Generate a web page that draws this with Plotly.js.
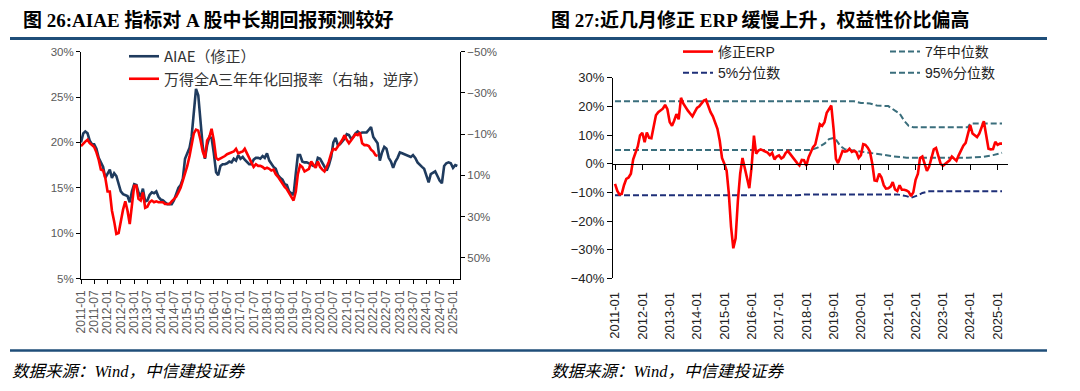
<!DOCTYPE html>
<html><head><meta charset="utf-8">
<script src="https://cdn.plot.ly/plotly-3.0.1.min.js"></script>
<style>html,body{margin:0;padding:0;background:#fff;}#chart{width:1080px;height:391px;}</style>
</head><body><div id="chart"></div>
<script>
// ---------- Data (monthly, starting 2011-01) ----------
// Fig 26: AIAE (修正), %
const aiae = [
 20.0,21.0,21.2,21.0,20.2,19.8,19.8,19.3,18.3,17.8,
 17.3,16.1,16.5,17.0,16.1,16.6,16.3,15.4,14.6,14.3,
 14.2,14.1,13.4,14.6,15.4,15.3,14.5,14.0,14.9,13.5,
 13.6,14.2,14.5,14.4,14.6,14.0,13.7,13.6,13.4,13.2,
 13.2,13.2,13.6,14.4,15.0,15.3,16.0,18.2,18.8,19.4,
 20.6,23.2,25.9,25.2,22.5,19.6,18.2,19.7,20.6,20.5,
 18.8,16.7,16.4,17.4,17.6,17.6,17.7,17.9,17.8,18.2,
 18.0,18.6,18.2,18.4,18.1,17.9,17.6,17.6,18.1,18.3,
 18.3,18.2,18.5,18.3,18.8,18.0,17.6,17.3,17.1,16.4,
 16.1,15.9,15.4,15.3,14.6,14.4,14.2,16.6,18.6,18.6,
 17.9,17.8,17.8,17.7,17.5,17.4,17.4,18.3,18.2,17.8,
 17.3,16.9,17.5,18.4,20.0,20.5,19.7,19.8,20.1,20.4,
 20.9,20.8,20.4,20.6,21.0,21.2,21.0,21.1,21.1,21.1,
 21.4,21.7,20.6,20.2,19.9,18.0,18.9,19.5,19.3,18.3,
 17.9,17.2,17.9,18.3,18.9,18.8,18.7,18.6,18.5,18.4,
 18.6,18.3,17.8,17.5,17.3,17.1,16.3,15.6,16.5,16.7,
 16.8,16.3,15.8,15.5,17.4,17.7,17.8,17.7,17.2,17.5,
 17.4
];
// Fig 26: 万得全A三年年化回报率, % (right axis, reversed)
const windReturn3y = [
 -4.2,-5.6,-6.4,-7.3,-5.6,-4.7,-3.8,-1.2,2.4,7.2,
 7.6,11.2,17.8,17.8,27.0,32.3,38.4,38.0,31.4,26.6,
 22.6,27.0,33.6,24.8,15.1,15.1,21.3,22.2,18.2,25.7,
 25.2,23.0,22.2,23.0,22.6,23.0,23.0,23.0,23.9,23.9,
 23.9,22.6,21.7,20.4,18.2,16.0,12.5,9.4,5.4,0.6,
 -4.2,-10.4,-12.2,-11.7,-7.3,-1.6,1.5,-6.9,-8.6,-12.6,
 -6.9,1.5,2.4,1.9,1.5,0.6,-0.3,-0.7,-1.2,-1.6,
 -2.9,-0.7,-1.2,-1.6,-2.9,-0.7,1.5,3.7,5.9,4.6,
 5.4,5.4,5.9,6.8,6.3,6.8,7.6,7.2,9.4,10.7,
 12.5,14.2,15.6,16.7,18.6,20.8,22.2,17.8,9.4,5.0,
 5.9,8.1,7.6,6.8,3.2,4.6,6.3,3.2,5.9,7.2,
 8.1,5.9,3.2,-0.7,-2.9,-2.5,-3.8,-5.6,-7.3,-9.5,
 -7.3,-5.6,-6.9,-8.6,-10.0,-9.5,-10.8,-5.6,-4.7,-4.7,
 -4.2,-2.5,-1.6,0.2,0.6
];
// Fig 27: 修正ERP, %
const erp = [
 -7.0,-9.5,-10.7,-10.5,-7.5,-5.3,-4.8,-3.5,1.5,4.0,
 6.0,9.9,10.8,7.5,10.9,9.0,8.9,13.0,16.9,18.0,
 18.6,19.2,20.5,19.0,14.5,13.2,15.0,17.3,15.5,23.0,
 21.0,19.5,18.5,17.5,16.5,18.0,19.5,20.0,21.0,22.0,
 22.3,20.0,18.0,16.5,14.0,12.2,8.0,2.0,0.0,-2.5,
 -10.0,-22.0,-29.5,-26.0,-13.0,-3.5,2.0,-1.5,-6.0,-8.5,
 -1.0,9.8,3.5,4.6,5.0,4.6,4.5,3.9,3.0,3.8,
 1.5,2.5,2.9,1.8,2.3,3.8,4.4,3.3,2.2,1.2,
 0.2,-0.6,1.3,1.2,-0.7,2.3,4.0,5.8,6.7,10.5,
 13.8,13.2,14.5,17.8,19.0,20.3,12.0,1.7,0.2,2.5,
 4.5,4.2,4.4,5.2,4.1,4.5,4.0,2.0,3.0,6.8,
 6.6,5.6,4.2,0.0,-5.8,-6.0,-3.5,-4.7,-7.5,-8.7,
 -8.6,-8.0,-6.4,-9.0,-9.5,-7.5,-9.1,-9.1,-9.3,-9.8,
 -11.3,-10.0,-5.6,-3.5,2.0,2.5,-0.2,-2.5,-1.0,1.7,
 5.0,5.5,2.3,0.0,-0.7,0.0,0.6,1.2,2.5,1.8,
 1.0,3.0,5.0,6.3,7.3,10.5,13.5,10.5,9.9,9.3,
 10.5,12.8,14.8,10.0,5.2,5.0,5.1,7.6,6.6,7.0,
 7.0
];
// Fig 27 reference lines (vertices)
const medianDates = ['2011-01','2018-03','2018-06','2018-09','2018-11','2019-01','2019-02','2019-04','2019-06','2019-10','2020-04','2020-10','2021-03','2021-09','2023-12','2024-07','2024-11','2025-03'];
const median7y    = [4.8,4.8,5.6,7.0,8.6,9.0,8.4,6.2,5.0,4.6,4.0,3.2,2.6,2.1,2.1,2.4,3.0,3.8];
const p5Dates = ['2011-01','2017-09','2018-01','2021-05','2021-09','2021-11','2022-02','2022-04','2022-07','2025-03'];
const p5      = [-11.0,-11.0,-10.7,-10.7,-11.3,-11.9,-11.0,-10.2,-9.6,-9.6];
const p95Dates = ['2011-01','2019-10','2020-01','2020-05','2020-08','2021-01','2021-04','2021-06','2021-08','2021-10','2021-12','2023-12','2024-01','2025-03'];
const p95      = [21.8,21.8,21.2,21.0,20.3,20.1,18.5,17.5,15.0,13.2,12.7,12.7,14.0,14.0];

// ---------- helpers ----------
function monthDates(n){
  const out=[];
  for(let i=0;i<n;i++){const y=2011+Math.floor(i/12), m=i%12+1; out.push(y+'-'+String(m).padStart(2,'0')+'-01');}
  return out;
}
const pct = a => a.map(v => v/100);
const W=1080,H=391;
const px = x => x/W, py = y => 1-y/H;

const navy='#1F3B5E', red='#FF0000', teal='#3A6E7C', dnavy='#1E2F78';
const sans='"Liberation Sans", Arial, "Noto Sans CJK SC", sans-serif';
const cjk='"Noto Sans CJK SC", "Liberation Sans", sans-serif';
const serifTitle='"Liberation Serif", "Noto Sans CJK SC", serif';

const y3dom=[py(278.4), py(77.7)];
const zeroPos = y3dom[0] + (y3dom[1]-y3dom[0])*(0.4/0.7);
const rRange=['2010-12-05','2025-05-20'];

const traces = [
  {x:monthDates(aiae.length), y:pct(aiae), name:'AIAE（修正）', type:'scatter', mode:'lines',
   line:{color:navy,width:2.6}, xaxis:'x', yaxis:'y', legend:'legend'},
  {x:monthDates(windReturn3y.length), y:pct(windReturn3y), name:'万得全A三年年化回报率（右轴，逆序）', type:'scatter', mode:'lines',
   line:{color:red,width:2.6}, xaxis:'x', yaxis:'y2', legend:'legend'},
  {x:p95Dates, y:pct(p95), name:'95%分位数', type:'scatter', mode:'lines', line:{color:teal,width:2,dash:'6px,3px'},
   xaxis:'x2', yaxis:'y3', legend:'legend3', legendrank:2},
  {x:medianDates, y:pct(median7y), name:'7年中位数', type:'scatter', mode:'lines', line:{color:teal,width:2,dash:'6px,3px'},
   xaxis:'x2', yaxis:'y3', legend:'legend3', legendrank:1},
  {x:p5Dates, y:pct(p5), name:'5%分位数', type:'scatter', mode:'lines', line:{color:dnavy,width:2,dash:'6px,3px'},
   xaxis:'x2', yaxis:'y3', legend:'legend2', legendrank:2},
  {x:monthDates(erp.length), y:pct(erp), name:'修正ERP', type:'scatter', mode:'lines',
   line:{color:red,width:2.6}, xaxis:'x2', yaxis:'y3', legend:'legend2', legendrank:1},
  {x:['2011-01-01'], y:[null], type:'scatter', mode:'lines', xaxis:'x3', yaxis:'y3', showlegend:false, hoverinfo:'skip'}
];

const tickFontL={family:sans,size:11.5,color:'#595959'};
const layout = {
  width:W, height:H, margin:{l:0,r:0,t:0,b:0}, paper_bgcolor:'#fff', plot_bgcolor:'rgba(0,0,0,0)',
  showlegend:true, hovermode:false,
  xaxis:{domain:[px(81),px(460)], anchor:'y', type:'date', range:['2011-01-01','2025-04-07'],
    tick0:'2011-01-01', dtick:'M6', tickformat:'%Y-%m', tickangle:-90, ticks:'outside', ticklen:4, tickcolor:'#000',
    showline:true, linecolor:'#000', linewidth:1, showgrid:false, zeroline:false, ticklabelstandoff:2,
    tickfont:{family:sans,size:12,color:'#595959'}},
  yaxis:{domain:[py(278.5),py(51.7)], anchor:'x', range:[0.05,0.30], tick0:0.05, dtick:0.05, tickformat:'.0%',
    ticks:'outside', ticklen:4, tickcolor:'#000', showline:true, linecolor:'#000', showgrid:false, zeroline:false, tickfont:tickFontL},
  yaxis2:{overlaying:'y', anchor:'x', side:'right', range:[0.6,-0.5], tick0:-0.5, dtick:0.2, tickformat:'.0%',
    ticks:'outside', ticklen:4, tickcolor:'#000', showline:true, linecolor:'#000', showgrid:false, zeroline:false, tickfont:tickFontL},
  xaxis2:{domain:[px(613),px(1008)], anchor:'y3', type:'date', range:rRange, tick0:'2011-01-01', dtick:'M12',
    tickformat:'%Y-%m', tickangle:-90, ticks:'', showline:false, showgrid:false, zeroline:false, ticklabelstandoff:10,
    tickfont:{family:sans,size:13,color:'#222'}},
  xaxis3:{overlaying:'x2', anchor:'free', position:zeroPos, type:'date', range:rRange, tick0:'2011-01-01', dtick:'M12',
    ticks:'outside', ticklen:5, tickcolor:'#000', showline:true, linecolor:'#000', linewidth:1.2,
    showticklabels:false, showgrid:false, zeroline:false},
  yaxis3:{domain:y3dom, anchor:'x2', range:[-0.4,0.3], tick0:0, dtick:0.1, tickformat:'.0%',
    ticks:'outside', ticklen:5, tickcolor:'#000', showline:true, linecolor:'#000', showgrid:false, zeroline:false,
    tickfont:{family:sans,size:13,color:'#222'}},
  legend:{x:px(124), y:py(40), xanchor:'left', yanchor:'top', bgcolor:'rgba(0,0,0,0)', borderwidth:0,
    font:{family:cjk,size:15,color:'#333'}, tracegroupgap:0, traceorder:'normal'},
  legend2:{x:px(678), y:py(36), xanchor:'left', yanchor:'top', bgcolor:'rgba(0,0,0,0)', borderwidth:0,
    font:{family:sans,size:14,color:'#222'}, traceorder:'normal'},
  legend3:{x:px(885), y:py(36), xanchor:'left', yanchor:'top', bgcolor:'rgba(0,0,0,0)', borderwidth:0,
    font:{family:sans,size:14,color:'#222'}, traceorder:'normal'},
  shapes:[
    {type:'line', xref:'paper', yref:'paper', x0:px(10), x1:px(1047), y0:py(38.5), y1:py(38.5), line:{color:'#1F4E79',width:3}},
    {type:'line', xref:'paper', yref:'paper', x0:px(10), x1:px(1047), y0:py(350.5), y1:py(350.5), line:{color:'#1F4E79',width:2.5}}
  ],
  annotations:[
    {xref:'paper',yref:'paper',x:px(21),y:py(19.5),xanchor:'left',yanchor:'middle',showarrow:false,
     text:'图 26:AIAE 指标对 A 股中长期回报预测较好', font:{family:serifTitle,size:19,weight:'bold',color:'#000'}},
    {xref:'paper',yref:'paper',x:px(549),y:py(19.5),xanchor:'left',yanchor:'middle',showarrow:false,
     text:'图 27:近几月修正 ERP 缓慢上升，权益性价比偏高', font:{family:serifTitle,size:19,weight:'bold',color:'#000'}},
    {xref:'paper',yref:'paper',x:px(10),y:py(371),xanchor:'left',yanchor:'middle',showarrow:false,
     text:'数据来源：Wind，中信建投证券', font:{family:serifTitle,size:16.5,style:'italic',color:'#000'}},
    {xref:'paper',yref:'paper',x:px(549),y:py(371),xanchor:'left',yanchor:'middle',showarrow:false,
     text:'数据来源：Wind，中信建投证券', font:{family:serifTitle,size:16.5,style:'italic',color:'#000'}}
  ]
};
Plotly.newPlot('chart', traces, layout, {displayModeBar:false, staticPlot:true});
</script></body></html>
